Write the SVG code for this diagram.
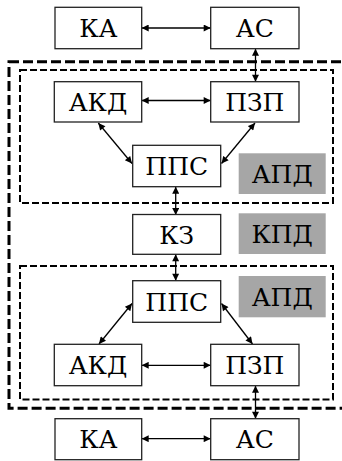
<svg xmlns="http://www.w3.org/2000/svg" width="342" height="461" viewBox="0 0 342 461">
<defs>
<marker id="ah" viewBox="0 0 10 10" refX="10" refY="5" markerWidth="9" markerHeight="7" markerUnits="userSpaceOnUse" orient="auto-start-reverse">
<path d="M0,0 L10,5 L0,10 Z" fill="#000"/>
</marker>
<style>
.box{fill:#fff;stroke:#222;stroke-width:1.3}
.gray{fill:#a6a6a6}
text{font-family:'DejaVu Serif','Liberation Serif',serif;font-size:25px;text-anchor:middle;fill:#000}
.c{stroke:#000;stroke-width:1.3;fill:none;marker-start:url(#ah);marker-end:url(#ah)}
.outer{fill:none;stroke:#000;stroke-width:3;stroke-dasharray:10 4}
.inner{fill:none;stroke:#000;stroke-width:2;stroke-dasharray:7 3}
</style>
</defs>
<rect width="342" height="461" fill="#fff"/>
<g id="frames">
<rect class="outer" x="9" y="61.7" width="340" height="346.6"/>
<rect class="inner" x="20" y="70" width="313" height="133"/>
<rect class="inner" x="20" y="266" width="313" height="133.5"/>
</g>
<g id="connectors">
<line class="c" x1="141.7" y1="28" x2="210.7" y2="28"/>
<line class="c" x1="255.5" y1="48.7" x2="255.5" y2="81.7"/>
<line class="c" x1="141.7" y1="100.5" x2="210.7" y2="100.5"/>
<line class="c" x1="98.3" y1="123" x2="132" y2="163.5"/>
<line class="c" x1="255" y1="123" x2="221.5" y2="163.5"/>
<line class="c" x1="175.7" y1="186.7" x2="175.7" y2="215"/>
<line class="c" x1="175.7" y1="254.3" x2="175.7" y2="280.7"/>
<line class="c" x1="132" y1="303.5" x2="99" y2="344"/>
<line class="c" x1="221.5" y1="303.5" x2="252.5" y2="344"/>
<line class="c" x1="141.7" y1="365.3" x2="210.7" y2="365.3"/>
<line class="c" x1="255.5" y1="385.7" x2="255.5" y2="418.7"/>
<line class="c" x1="141.7" y1="438.7" x2="210.7" y2="438.7"/>
</g>
<g id="ka1"><rect class="box" x="55" y="7.3" width="86.7" height="41.4"/><text x="98.3" y="37">КА</text></g>
<g id="as1"><rect class="box" x="210.7" y="7.3" width="88.3" height="41.4"/><text x="254.8" y="37">АС</text></g>
<g id="akd1"><rect class="box" x="54.3" y="81.7" width="87.4" height="40.3"/><text x="98" y="110.8">АКД</text></g>
<g id="pzp1"><rect class="box" x="210.7" y="81.7" width="88.3" height="40.3"/><text x="254.8" y="110.8">ПЗП</text></g>
<g id="pps1"><rect class="box" x="132.7" y="145.3" width="88" height="41.4"/><text x="176.7" y="175">ППС</text></g>
<g id="apd1"><rect class="gray" x="238.7" y="153.3" width="87" height="40.7"/><text x="282.2" y="182.7">АПД</text></g>
<g id="kz"><rect class="box" x="132.7" y="214.5" width="88" height="39.8"/><text x="176.7" y="243.5">КЗ</text></g>
<g id="kpd"><rect class="gray" x="238.7" y="213.3" width="87" height="40.7"/><text x="282.2" y="242.7">КПД</text></g>
<g id="pps2"><rect class="box" x="132.7" y="280.7" width="88" height="41.6"/><text x="176.7" y="310.5">ППС</text></g>
<g id="apd2"><rect class="gray" x="238.7" y="276" width="87" height="41.3"/><text x="282.2" y="305.7">АПД</text></g>
<g id="akd2"><rect class="box" x="54.3" y="344.3" width="87.4" height="41.4"/><text x="98" y="374">АКД</text></g>
<g id="pzp2"><rect class="box" x="210.7" y="344.3" width="88.3" height="41.4"/><text x="254.8" y="374">ПЗП</text></g>
<g id="ka2"><rect class="box" x="55" y="418.7" width="86.7" height="41"/><text x="98.3" y="448">КА</text></g>
<g id="as2"><rect class="box" x="210.7" y="418.7" width="88.3" height="41"/><text x="254.8" y="448">АС</text></g>
</svg>
